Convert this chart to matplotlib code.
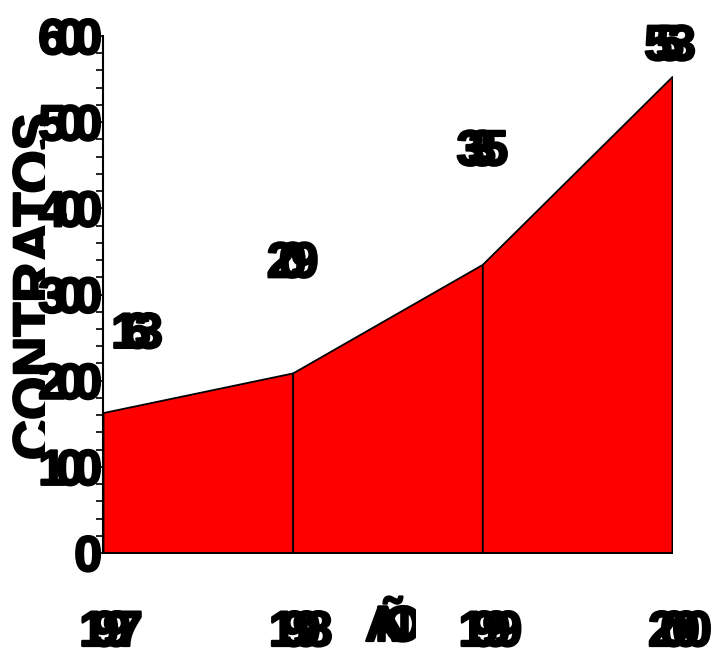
import matplotlib
matplotlib.use('Agg')
import matplotlib.pyplot as plt
from matplotlib import transforms as mtrans
from matplotlib.patches import Rectangle
import matplotlib.patheffects as pe
import numpy as np

# ---- data ----
years = ['1997', '1998', '1999', '2000']
contratos = [163, 209, 335, 553]
yticks = [0, 100, 200, 300, 400, 500, 600]
ylabel_text = 'CONTRATOS'
xlabel_text = 'AÑO'

# ---- layout (pixels) ----
W, H = 715, 651
FONT = 'Liberation Sans'
label_dy_data = [75, 111, 115, 19]   # value-label baseline above the point
label_dx_px = [34, 0, 0, -2]
HEAVY = [pe.withStroke(linewidth=1.6, foreground='black')]

fig = plt.figure(figsize=(W / 100, H / 100), dpi=100)
ax = fig.add_axes([103 / W, 98 / H, (672 - 103) / W, (553 - 36) / H])

x = np.arange(len(years))
for i in range(len(x) - 1):
    ax.fill_between(x[i:i + 2], 0, contratos[i:i + 2], facecolor='#ff0000',
                    edgecolor='black', linewidth=1.3, zorder=2)

ax.set_xlim(0, len(years) - 1)
ax.set_ylim(0, 600)
for s in ['top', 'right']:
    ax.spines[s].set_visible(False)
ax.spines['left'].set_linewidth(1.5)
ax.spines['bottom'].set_linewidth(1.3)
ax.set_xticks([])
ax.set_yticks(yticks)
ax.set_yticks(range(0, 601, 20), minor=True)
ax.tick_params(axis='y', which='both', direction='out', length=5, width=1.2,
               labelleft=False)


def overlap_text(s, xv, yv, trans, adv, align, dx0=0, dy0=0, size=36,
                 clip=None):
    n = len(s)
    for i, ch in enumerate(s):
        if align == 'center':
            dx = (i - (n - 1) / 2) * adv
        else:
            dx = -(n - 1 - i) * adv
        t = mtrans.offset_copy(trans, fig=fig, x=dx + dx0, y=dy0, units='dots')
        txt = ax.text(xv, yv, ch, transform=t, ha=align, va='baseline',
                      clip_on=False, fontsize=size, fontweight='bold',
                      fontstretch='normal', family=FONT, color='black',
                      zorder=5, path_effects=HEAVY)
        if clip is not None:
            txt.set_clip_on(True)
            txt.set_clip_path(clip)


# y tick labels
for v in yticks:
    overlap_text(str(v), 0, v, ax.get_yaxis_transform(), 18, 'right',
                 dx0=-1, dy0=-18)

# x tick labels
for i, yr in enumerate(years):
    overlap_text(yr, i, (553 - 646) / 517, ax.get_xaxis_transform(), 12,
                 'center', dx0=8)

# value labels
for i, v in enumerate(contratos):
    overlap_text(str(v), i, v + label_dy_data[i], ax.transData, 12, 'center',
                 dx0=label_dx_px[i])

# x axis title (right side cut like the reference)
xclip = Rectangle((0, 0), 416 / W, 1, transform=fig.transFigure,
                  facecolor='none', edgecolor='none')
overlap_text(xlabel_text, 393 / W, (H - 641) / H, fig.transFigure, 10,
             'center', clip=xclip)

# y axis title (clipped on the right like the reference)
yclip = Rectangle((0, 0), 45 / W, 1, transform=fig.transFigure,
                  facecolor='none', edgecolor='none')
yl = ax.text(12 / W, (H - 287) / H, ylabel_text, transform=fig.transFigure,
             rotation=90, ha='left', va='center', fontsize=40,
             fontweight='bold', fontstretch='normal', family=FONT,
             color='black', path_effects=HEAVY, zorder=1)
yl.set_clip_on(True)
yl.set_clip_path(yclip)

fig.savefig('out.png', dpi=100)
